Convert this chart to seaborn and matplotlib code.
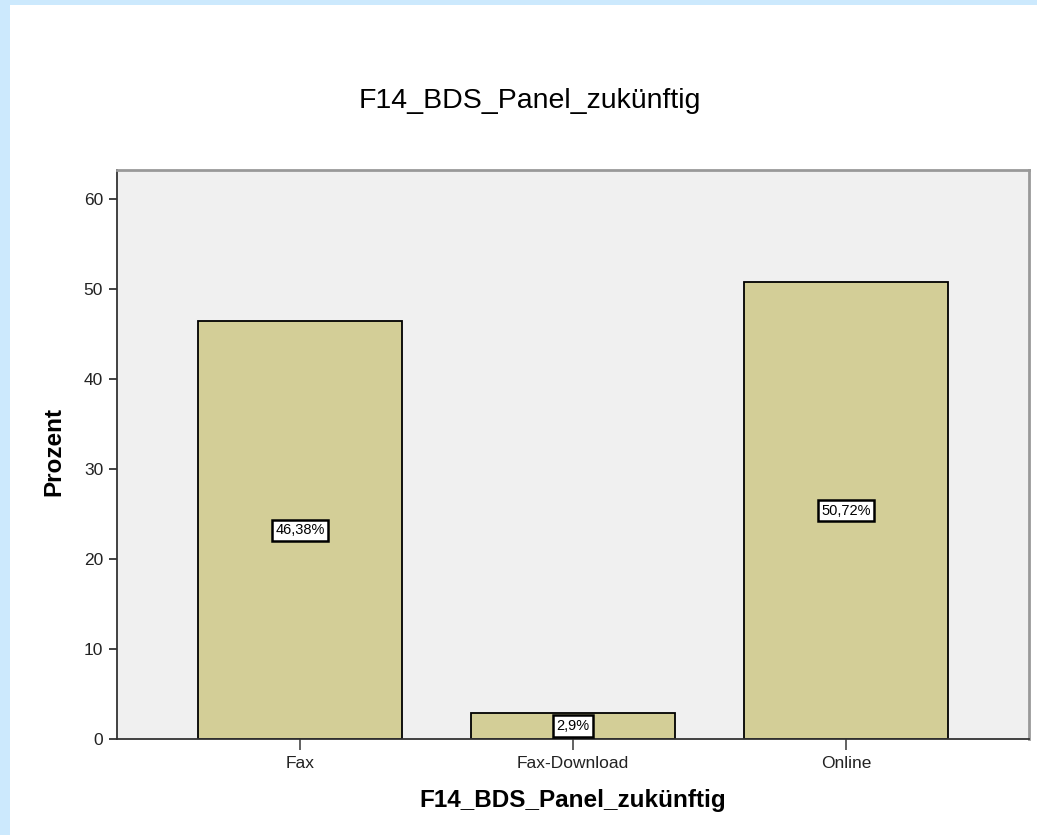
import matplotlib
matplotlib.use("Agg")
import matplotlib.pyplot as plt
import seaborn as sns
import pandas as pd
from matplotlib.patches import Rectangle

# data
categories = ["Fax", "Fax-Download", "Online"]
percent = [46.38, 2.9, 50.72]
labels = ["46,38%", "2,9%", "50,72%"]

df = pd.DataFrame({"kanal": categories, "prozent": percent})

sns.set_style("white")
plt.rcParams["font.family"] = ["Liberation Sans", "DejaVu Sans"]

fig = plt.figure(figsize=(10.37, 8.35), dpi=100)
fig.patch.set_facecolor("#cce9fd")
# white page inside the light blue frame
fig.patches.append(Rectangle((10 / 1037, 0), 1, 830 / 835, transform=fig.transFigure,
                             facecolor="white", edgecolor="none", zorder=-10))

ax = fig.add_axes([117 / 1037, 96 / 835, 912 / 1037, 569 / 835])
ax.set_zorder(1)
ax.set_facecolor("#f0f0f0")

sns.barplot(data=df, x="kanal", y="prozent", color="#d3ce97", width=0.75,
            edgecolor="black", linewidth=1.3, saturation=1, ax=ax)

for i, (v, lab) in enumerate(zip(percent, labels)):
    ax.text(i, v / 2, lab, ha="center", va="center", fontsize=10.5, color="black",
            bbox=dict(boxstyle="square,pad=0.25", facecolor="white",
                      edgecolor="black", linewidth=1.8))

ax.set_xlim(-0.67, 2.67)
ax.set_ylim(0, 63.2)
ax.set_yticks([0, 10, 20, 30, 40, 50, 60])

for side in ["left", "bottom"]:
    ax.spines[side].set_color("#333333")
    ax.spines[side].set_linewidth(1.3)
for side in ["top", "right"]:
    ax.spines[side].set_color("#999999")
    ax.spines[side].set_linewidth(2)

ax.tick_params(axis="y", direction="out", length=6, width=1.3, color="#333333",
               labelsize=12.5, labelcolor="#222222", left=True, pad=4)
ax.tick_params(axis="x", direction="out", length=8, width=1.3, color="#555555",
               labelsize=12.5, labelcolor="#222222", bottom=True, pad=4)

ax.set_xlabel("")
ax.set_ylabel("")
fig.text(573 / 1037, 1 - 801 / 835, "F14_BDS_Panel_zukünftig", ha="center",
         va="center", fontsize=17.5, fontweight="bold", color="black")
fig.text(54 / 1037, 1 - 452 / 835, "Prozent", ha="center", va="center",
         rotation=90, fontsize=17.5, fontweight="bold", color="black")

fig.text(701 / 1037, 1 - 108 / 835, "F14_BDS_Panel_zukünftig", ha="right",
         va="baseline", fontsize=20.5, color="black")

fig.savefig("out.png", dpi=100, facecolor=fig.get_facecolor())
